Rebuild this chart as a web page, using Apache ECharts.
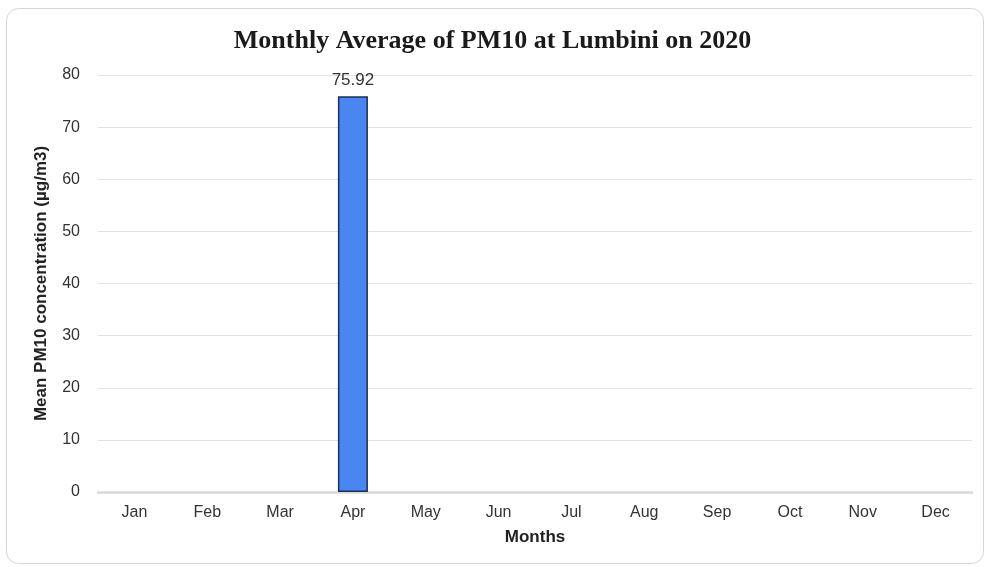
<!DOCTYPE html>
<html>
<head>
<meta charset="utf-8">
<script src="https://cdn.jsdelivr.net/npm/echarts@6/dist/echarts.min.js"></script>
<style>
html,body{margin:0;padding:0;background:#fff;}
#c{width:985px;height:567px;}
</style>
</head>
<body>
<div id="c"></div>
<script>
const months = ['Jan','Feb','Mar','Apr','May','Jun','Jul','Aug','Sep','Oct','Nov','Dec'];
const pm10 = [null,null,null,75.92,null,null,null,null,null,null,null,null];
const yTicks = {min:0,max:80,interval:10};

const chart = echarts.init(document.getElementById('c'));
chart.setOption({
  animation:false,
  backgroundColor:'#fff',
  graphic:[{
    type:'rect',
    shape:{x:6.5,y:8.5,width:977,height:555,r:12},
    style:{fill:'none',stroke:'#d6d6d6',lineWidth:1},
    z:-1
  }],
  title:{
    text:'Monthly Average of PM10 at Lumbini on 2020',
    left:'center', top:23,
    textStyle:{fontFamily:'Liberation Serif',fontWeight:'bold',fontSize:26,color:'#1a1a1a'}
  },
  grid:{left:98,right:13,top:75,bottom:75},
  xAxis:{
    type:'category',
    data:months,
    name:'Months',
    nameLocation:'middle',
    nameGap:37,
    nameTextStyle:{fontFamily:'Liberation Sans',fontWeight:'bold',fontSize:17,color:'#222'},
    axisLine:{lineStyle:{color:'#d9d9d9',width:2.5}},
    axisTick:{show:false},
    axisLabel:{fontFamily:'Liberation Sans',fontSize:16,color:'#333',margin:13}
  },
  yAxis:{
    type:'value',
    min:yTicks.min,max:yTicks.max,interval:yTicks.interval,
    name:'Mean PM10 concentration (µg/m3)',
    nameLocation:'middle',
    nameGap:48,
    nameTextStyle:{fontFamily:'Liberation Sans',fontWeight:'bold',fontSize:17,color:'#222'},
    axisLine:{show:false},
    axisTick:{show:false},
    axisLabel:{fontFamily:'Liberation Sans',fontSize:16,color:'#333',margin:18},
    splitLine:{lineStyle:{color:'#e2e2e2',width:1}}
  },
  series:[{
    type:'bar',
    data:pm10,
    barWidth:30,
    itemStyle:{color:'#4a86f0',borderColor:'#1c2f55',borderWidth:1.5},
    label:{show:true,position:'top',distance:7,fontFamily:'Liberation Sans',fontSize:17,color:'#333',
      formatter:p=>p.value.toFixed(2)}
  }]
});
</script>
</body>
</html>
